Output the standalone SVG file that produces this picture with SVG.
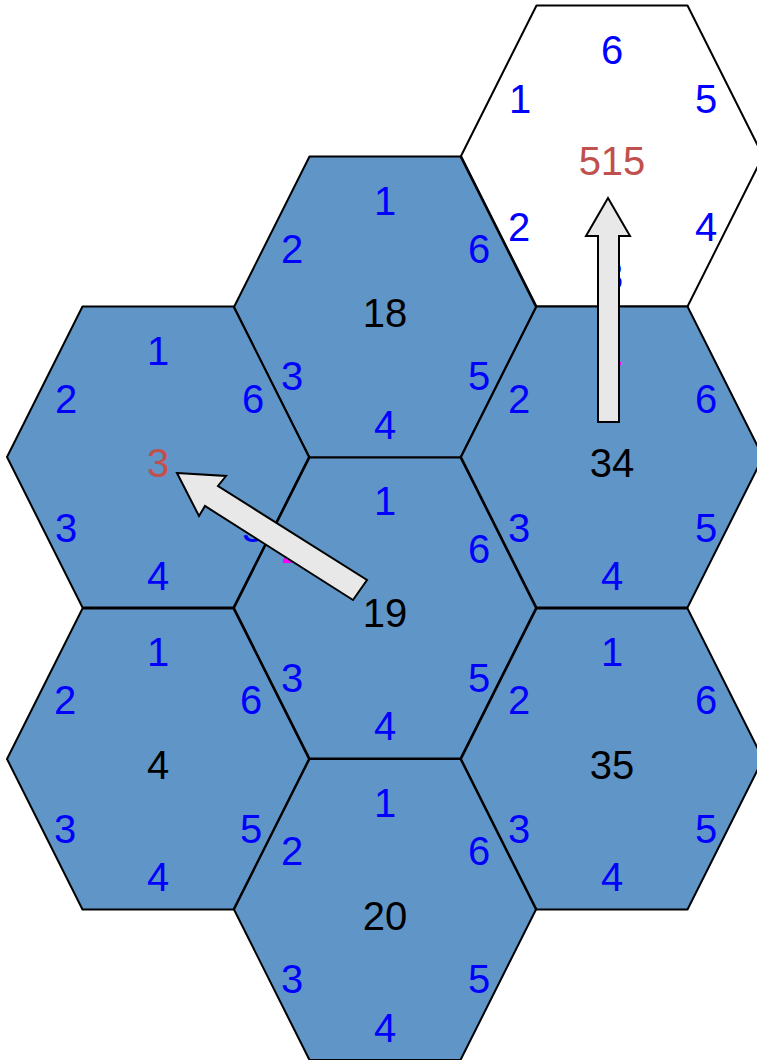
<svg xmlns="http://www.w3.org/2000/svg" xmlns:xlink="http://www.w3.org/1999/xlink" width="757" height="1060" viewBox="0 0 757 1060">
<style>
.hex{stroke:#000;stroke-width:2;stroke-linejoin:round}
.blue{fill:#6095C8}
.white{fill:#fff}
text{font-family:"Liberation Sans",Arial,sans-serif;font-size:40px;text-anchor:middle}
.n{fill:#0000FF}
.c{fill:#000}
.r{fill:#C0504D}
.m{fill:#FF00FF}
.arrow{fill:#E8E8E8;stroke:#000;stroke-width:2;stroke-linejoin:miter}
</style>
<defs>
<polygon id="hexshape" points="-151,0 -75.5,-150.5 75.5,-150.5 151,0 75.5,150.5 -75.5,150.5"/>
</defs>
<rect width="757" height="1060" fill="#fff"/>
<g id="hex515" transform="translate(612,156)">
<use xlink:href="#hexshape" class="hex white"/>
<text class="n" x="0" y="-92">6</text>
<text class="n" x="-92" y="-43">1</text>
<text class="n" x="94" y="-43">5</text>
<text class="n" x="-93" y="85">2</text>
<text class="n" x="94" y="85">4</text>
<text class="n" x="0" y="134">3</text>
<text class="r" x="0" y="19">515</text>
</g>
<g id="hex18" transform="translate(385,307)">
<use xlink:href="#hexshape" class="hex blue"/>
<text class="n" x="0" y="-92">1</text>
<text class="n" x="-93" y="-44">2</text>
<text class="n" x="94" y="-44">6</text>
<text class="n" x="-93" y="83">3</text>
<text class="n" x="94" y="83">5</text>
<text class="n" x="0" y="132">4</text>
<text class="c" x="0" y="20">18</text>
</g>
<g id="hex3" transform="translate(158,457)">
<use xlink:href="#hexshape" class="hex blue"/>
<text class="n" x="0" y="-92">1</text>
<text class="n" x="-92" y="-44">2</text>
<text class="n" x="95" y="-44">6</text>
<text class="n" x="-92" y="85">3</text>
<text class="n" x="95" y="85">5</text>
<text class="n" x="0" y="133">4</text>
<text class="r" x="0" y="20">3</text>
</g>
<g id="hex34" transform="translate(612,457)">
<use xlink:href="#hexshape" class="hex blue"/>
<text class="m" x="0" y="-92">1</text>
<text class="n" x="-93" y="-44">2</text>
<text class="n" x="94" y="-44">6</text>
<text class="n" x="-93" y="85">3</text>
<text class="n" x="94" y="85">5</text>
<text class="n" x="0" y="133">4</text>
<text class="c" x="0" y="20">34</text>
</g>
<g id="hex19" transform="translate(385,608)">
<use xlink:href="#hexshape" class="hex blue"/>
<text class="n" x="0" y="-93">1</text>
<text class="m" x="-93" y="-45">2</text>
<text class="n" x="94" y="-45">6</text>
<text class="n" x="-93" y="84">3</text>
<text class="n" x="94" y="84">5</text>
<text class="n" x="0" y="132">4</text>
<text class="c" x="0" y="19">19</text>
</g>
<g id="hex4" transform="translate(158,759)">
<use xlink:href="#hexshape" class="hex blue"/>
<text class="n" x="0" y="-93">1</text>
<text class="n" x="-93" y="-45">2</text>
<text class="n" x="93" y="-45">6</text>
<text class="n" x="-93" y="84">3</text>
<text class="n" x="93" y="84">5</text>
<text class="n" x="0" y="132">4</text>
<text class="c" x="0" y="20">4</text>
</g>
<g id="hex35" transform="translate(612,759)">
<use xlink:href="#hexshape" class="hex blue"/>
<text class="n" x="0" y="-93">1</text>
<text class="n" x="-93" y="-45">2</text>
<text class="n" x="94" y="-45">6</text>
<text class="n" x="-93" y="84">3</text>
<text class="n" x="94" y="84">5</text>
<text class="n" x="0" y="132">4</text>
<text class="c" x="0" y="20">35</text>
</g>
<g id="hex20" transform="translate(385,909.5)">
<use xlink:href="#hexshape" class="hex blue"/>
<text class="n" x="0" y="-93">1</text>
<text class="n" x="-93" y="-45">2</text>
<text class="n" x="94" y="-45">6</text>
<text class="n" x="-93" y="83">3</text>
<text class="n" x="94" y="83">5</text>
<text class="n" x="0" y="132">4</text>
<text class="c" x="0" y="20">20</text>
</g>
<g id="connectors">
<polygon class="arrow" points="608,198 630,236 619,236 619,422 598,422 598,236 586,236"/>
<polygon class="arrow" points="177,473 226,476 218,486 367,580 353,600 205,506 199,516"/>
</g>
</svg>
